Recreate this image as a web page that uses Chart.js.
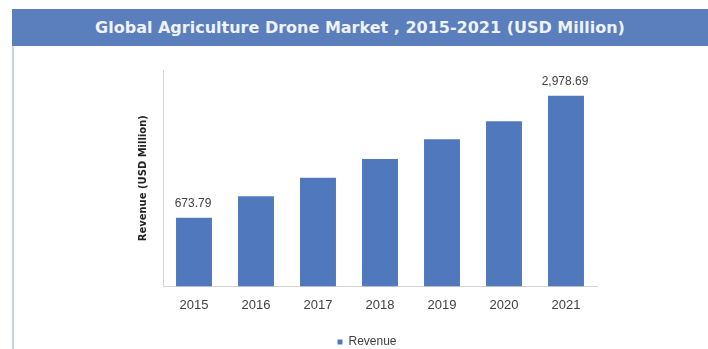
<!DOCTYPE html>
<html>
<head>
<meta charset="utf-8">
<script src="https://cdn.jsdelivr.net/npm/chart.js@4/dist/chart.umd.min.js"></script>
<style>
  html, body { margin: 0; padding: 0; background: #ffffff; width: 708px; height: 349px; overflow: hidden; }
  #wrap { position: relative; width: 708px; height: 349px; overflow: hidden; }
  #header {
    position: absolute; left: 12px; top: 9px; width: 696px; height: 37px;
    background: #5b7ebc; color: #eef2f9;
    font: bold 16px "DejaVu Sans", Verdana, sans-serif;
    line-height: 37px; text-align: center; white-space: nowrap;
  }
  #leftline { position: absolute; left: 12px; top: 46px; width: 2px; height: 303px; background: #c9d3e4; }
  #c { position: absolute; left: 0; top: 0; }
</style>
</head>
<body>
<div id="wrap">
  <canvas id="c" width="708" height="358"></canvas>
  <div id="header">Global Agriculture Drone Market , 2015-2021 (USD Million)</div>
  <div id="leftline"></div>
</div>
<script>
const categories = ["2015", "2016", "2017", "2018", "2019", "2020", "2021"];
const revenue = [673.79, 1083, 1432, 1784, 2158, 2499, 2978.69];
const labelledIndices = [0, 6];
const seriesName = "Revenue";
const yAxisTitle = "Revenue (USD Million)";
const yMin = -622;
const yMax = 3466;

const barColor = "#5079bd";

const valueLabels = {
  id: "valueLabels",
  afterDatasetsDraw(chart) {
    const meta = chart.getDatasetMeta(0);
    const ctx = chart.ctx;
    ctx.save();
    ctx.font = "12px 'Liberation Sans', Arial, sans-serif";
    ctx.fillStyle = "#404040";
    ctx.textAlign = "center";
    ctx.textBaseline = "middle";
    labelledIndices.forEach(i => {
      const el = meta.data[i];
      const v = revenue[i];
      const txt = v.toLocaleString("en-US", { minimumFractionDigits: 2, maximumFractionDigits: 2 });
      ctx.fillText(txt, el.x - 1, el.y - 14);
    });
    ctx.restore();
  }
};

new Chart(document.getElementById("c"), {
  type: "bar",
  data: {
    labels: categories,
    datasets: [{
      label: seriesName,
      data: revenue,
      base: yMin,
      backgroundColor: barColor,
      borderWidth: 0,
      barPercentage: 0.58,
      categoryPercentage: 1.0
    }]
  },
  options: {
    responsive: false,
    animation: false,
    devicePixelRatio: 1,
    layout: { padding: { left: 137, right: 111, top: 70, bottom: 0 } },
    plugins: {
      title: { display: false },
      tooltip: { enabled: false },
      legend: {
        display: true,
        position: "bottom",
        labels: {
          boxWidth: 5,
          boxHeight: 5,
          padding: 12,
          color: "#404040",
          font: { family: "'Liberation Sans', Arial, sans-serif", size: 12 }
        }
      }
    },
    scales: {
      x: {
        grid: { display: false, drawTicks: false },
        border: { display: true, color: "#d4d4d4", width: 1 },
        ticks: {
          padding: 11,
          color: "#404040",
          font: { family: "'Liberation Sans', Arial, sans-serif", size: 13 }
        }
      },
      y: {
        min: yMin,
        max: yMax,
        grid: { display: false, drawTicks: false },
        border: { display: true, color: "#d4d4d4", width: 1 },
        ticks: { display: false },
        title: {
          display: true,
          text: yAxisTitle,
          color: "#222222",
          font: { family: "'DejaVu Sans', Verdana, sans-serif", size: 10, weight: "bold" },
          padding: { top: 0, bottom: 14 }
        }
      }
    }
  },
  plugins: [valueLabels]
});
</script>
</body>
</html>
